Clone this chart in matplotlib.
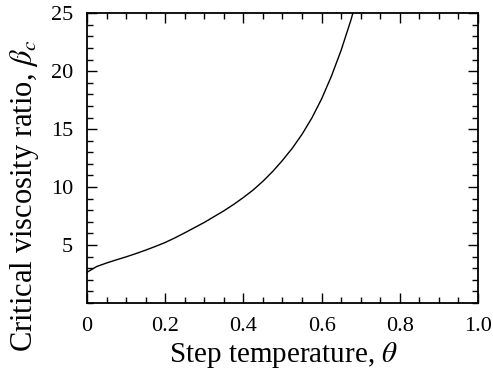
import numpy as np
import matplotlib
matplotlib.use("Agg")
import matplotlib.pyplot as plt
from matplotlib.ticker import MultipleLocator

# values
theta = [0.0, 0.025, 0.05, 0.075, 0.1, 0.125, 0.15, 0.175, 0.2, 0.225, 0.25, 0.275,
         0.3, 0.325, 0.35, 0.375, 0.4, 0.425, 0.45, 0.475, 0.5, 0.525, 0.55, 0.575,
         0.6, 0.625, 0.65, 0.675, 0.7]
beta_c = [2.65, 3.15, 3.45, 3.72, 3.98, 4.26, 4.56, 4.88, 5.22, 5.62, 6.05, 6.5,
          6.95, 7.45, 7.95, 8.5, 9.1, 9.75, 10.5, 11.35, 12.3, 13.35, 14.55, 15.95,
          17.6, 19.55, 21.8, 24.4, 27.4]

x_ticks = [0, 0.2, 0.4, 0.6, 0.8, 1.0]
x_labels = ["0", "0.2", "0.4", "0.6", "0.8", "1.0"]
y_ticks = [5, 10, 15, 20, 25]

plt.rcParams["font.family"] = ["Liberation Serif", "DejaVu Serif"]
plt.rcParams["mathtext.fontset"] = "stix"

fig = plt.figure(figsize=(4.93, 3.73), dpi=100)
ax = fig.add_axes([0.1765, 0.1877, 0.793, 0.777])

ax.plot(theta, beta_c, color="black", lw=1.0)

ax.set_xlim(0, 1.0)
ax.set_ylim(0, 25)
ax.set_xticks(x_ticks)
ax.set_xticklabels(x_labels)
ax.set_yticks(y_ticks)
ax.xaxis.set_minor_locator(MultipleLocator(0.05))
ax.yaxis.set_minor_locator(MultipleLocator(1))
ax.tick_params(which="both", direction="in", top=True, right=True, labelsize=16, width=1.0)
ax.tick_params(which="major", length=7, pad=10)
ax.tick_params(which="minor", length=4)
for s in ax.spines.values():
    s.set_linewidth(1.3)

ax.set_xlabel(r"Step temperature, $\theta$", fontsize=21, va="center")
ax.set_ylabel(r"Critical viscosity ratio, $\beta_c$", fontsize=22, va="center")
ax.xaxis.set_label_coords(0.503, -0.18)
ax.yaxis.set_label_coords(-0.16, 0.37)

fig.savefig("out.png", dpi=100)
